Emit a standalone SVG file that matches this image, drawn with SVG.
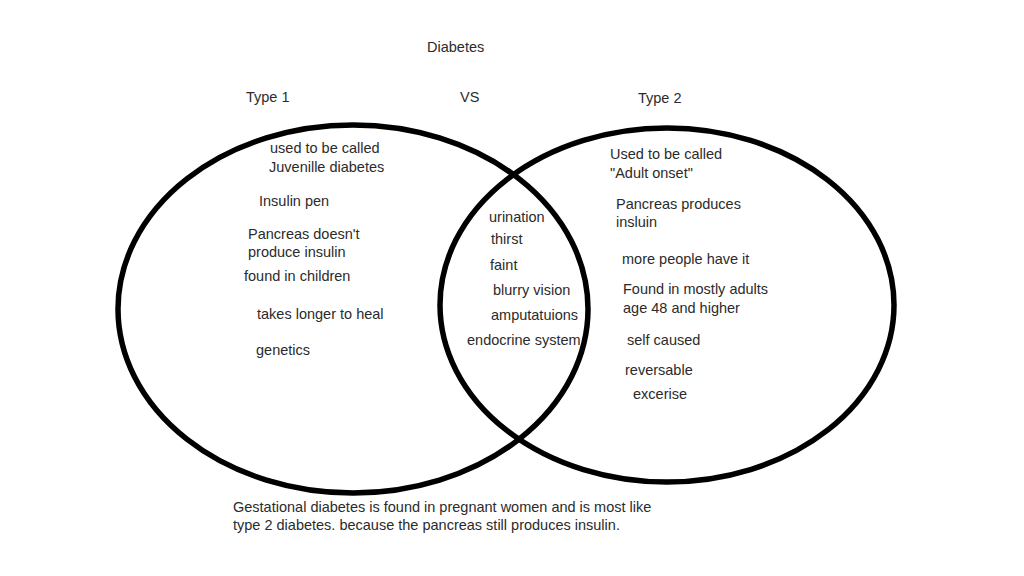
<svg xmlns="http://www.w3.org/2000/svg" width="1024" height="576" viewBox="0 0 1024 576">
<style>
text{font-family:"Liberation Sans",Arial,sans-serif;font-size:14.5px;fill:#2b2b2b}
.c{fill:none;stroke:#000;stroke-width:5.5}
</style>
<rect width="1024" height="576" fill="#fff"/>
<g id="circles">
<ellipse id="type1-set" class="c" cx="353" cy="309" rx="235" ry="184"/>
<ellipse id="type2-set" class="c" cx="667" cy="305" rx="227" ry="177"/>
</g>
<g id="titles">
<text x="427" y="52">Diabetes</text>
<text x="246" y="102">Type 1</text>
<text x="460" y="102">VS</text>
<text x="638" y="103">Type 2</text>
</g>
<g id="type1">
<text x="270" y="153">used to be called</text>
<text x="269" y="172">Juvenille diabetes</text>
<text x="259" y="206">Insulin pen</text>
<text x="248" y="239">Pancreas doesn't</text>
<text x="248" y="257">produce insulin</text>
<text x="244" y="281">found in children</text>
<text x="257" y="319">takes longer to heal</text>
<text x="256" y="355">genetics</text>
</g>
<g id="both">
<text x="489" y="222">urination</text>
<text x="491" y="244">thirst</text>
<text x="490" y="270">faint</text>
<text x="493" y="295">blurry vision</text>
<text x="491" y="320">amputatuions</text>
<text x="467" y="345">endocrine system</text>
</g>
<g id="type2">
<text x="610" y="159">Used to be called</text>
<text x="610" y="178">"Adult onset"</text>
<text x="616" y="209">Pancreas produces</text>
<text x="616" y="227">insluin</text>
<text x="622" y="264">more people have it</text>
<text x="623" y="294">Found in mostly adults</text>
<text x="623" y="313">age 48 and higher</text>
<text x="627" y="345">self caused</text>
<text x="625" y="375">reversable</text>
<text x="633" y="399">excerise</text>
</g>
<g id="note">
<text x="233" y="512">Gestational diabetes is found in pregnant women and is most like</text>
<text x="233" y="530">type 2 diabetes. because the pancreas still produces insulin.</text>
</g>
</svg>
